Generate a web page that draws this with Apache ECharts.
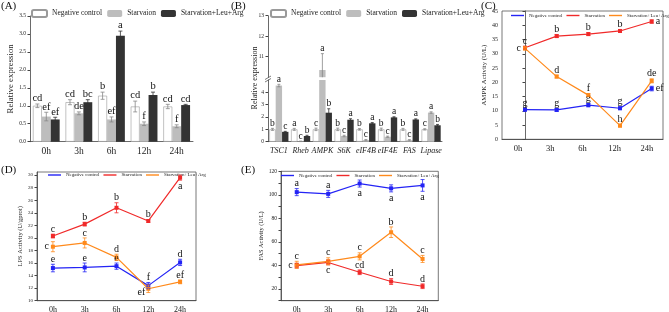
<!DOCTYPE html>
<html>
<head>
<meta charset="utf-8">
<script src="https://cdn.jsdelivr.net/npm/echarts@6/dist/echarts.min.js"></script>
<style>
html, body { margin: 0; padding: 0; background: #fff; }
#main { width: 669px; height: 312px; }
</style>
</head>
<body>
<div id="main"></div>
<script>
// ---- data ----
var hours = ['0h', '3h', '6h', '12h', '24h'];

// (A) relative expression, bars
var aNC = [1.00, 1.10, 1.28, 0.98, 0.98];
var aNCErr = [0.05, 0.07, 0.10, 0.15, 0.06];
var aNCLet = ['cd', 'cd', 'b', 'cd', 'cd'];
var aST = [0.70, 0.79, 0.62, 0.50, 0.43];
var aSTErr = [0.12, 0.04, 0.07, 0.05, 0.04];
var aSTLet = ['ef', 'de', 'ef', 'f', 'f'];
var aSLA = [0.62, 1.10, 2.95, 1.30, 1.02];
var aSLAErr = [0.06, 0.07, 0.13, 0.08, 0.02];
var aSLALet = ['ef', 'bc', 'a', 'b', 'cd'];

// (B) genes, broken axis
var genes = ['TSC1', 'Rheb', 'AMPK', 'S6K', 'eIF4B', 'eIF4E', 'FAS', 'Lipase'];
var bNC = [1.00, 1.00, 1.00, 1.00, 1.00, 1.00, 1.00, 1.00];
var bNCErr = [0.08, 0.08, 0.10, 0.10, 0.06, 0.10, 0.08, 0.05];
var bNCLet = ['b', 'a', 'c', 'b', 'b', 'b', 'b', 'c'];
var bST = [4.55, 0.03, 10.35, 0.46, 0.13, 0.40, 0.12, 2.36];
var bSTErr = [0.10, 0.02, 0.80, 0.06, 0.05, 0.05, 0.05, 0.06];
var bSTLet = ['a', 'c', 'a', 'c', 'c', 'c', 'c', 'a'];
var bSLA = [0.80, 0.46, 2.35, 1.78, 1.49, 1.97, 1.80, 1.33];
var bSLAErr = [0.04, 0.06, 0.32, 0.08, 0.06, 0.05, 0.05, 0.07];
var bSLALet = ['c', 'b', 'b', 'a', 'a', 'a', 'a', 'b'];

// (C) AMPK activity
var cNC = [10.4, 10.3, 12.0, 10.9, 17.8];
var cNCErr = [0.5, 0.5, 0.6, 0.5, 0.8];
var cNCLet = ['g', 'g', 'g', 'g', 'ef'];
var cST = [32.1, 36.2, 36.9, 38.0, 41.3];
var cSTErr = [0.5, 0.5, 0.5, 0.5, 0.6];
var cSTLet = ['c', 'b', 'b', 'b', 'a'];
var cSLA = [31.9, 22.0, 15.5, 4.8, 20.5];
var cSLAErr = [0.6, 0.5, 0.5, 0.5, 0.7];
var cSLALet = ['c', 'd', 'f', 'h', 'de'];

// (D) LPS activity
var dNC = [15.2, 15.3, 15.5, 12.4, 16.1];
var dNCErr = [0.6, 0.7, 0.5, 0.5, 0.5];
var dNCLet = ['e', 'e', 'e', 'f', 'd'];
var dST = [20.3, 22.2, 24.8, 22.7, 29.6];
var dSTErr = [0.3, 0.3, 0.8, 0.2, 0.4];
var dSTLet = ['c', 'b', 'b', 'b', 'a'];
var dSLA = [18.6, 19.2, 16.9, 11.9, 13.0];
var dSLAErr = [0.8, 0.8, 0.5, 0.6, 0.3];
var dSLALet = ['c', 'c', 'd', 'ef', 'ef'];

// (E) FAS activity
var eNC = [102.3, 100.8, 109.6, 105.5, 108.0];
var eNCErr = [3, 3, 3, 3, 5];
var eNCLet = ['a', 'a', 'a', 'a', 'a'];
var eST = [39.8, 42.5, 34.2, 26.3, 22.3];
var eSTErr = [2, 2, 2, 2.5, 2];
var eSTLet = ['c', 'c', 'cd', 'd', 'd'];
var eSLA = [40.5, 43.5, 47.7, 68.2, 45.5];
var eSLAErr = [3, 3, 3, 4.5, 3];
var eSLALet = ['c', 'c', 'c', 'b', 'c'];

// letter placement around the points
var cNCPos = ['top', 'top', 'top', 'top', 'right'];
var cSTPos = ['top', 'top', 'top', 'top', 'right'];
var cSLAPos = ['left', 'top', 'top', 'top', 'top'];
var dNCPos = ['top', 'top', 'top', 'top', 'top'];
var dSTPos = ['top', 'top', 'top', 'top', 'bottom'];
var dSLAPos = ['left', 'top', 'top', 'lowleft', 'top'];
var eNCPos = ['top', 'top', 'bottom', 'bottom', 'bottom'];
var eSTPos = ['left', 'bottom', 'top', 'top', 'top'];
var eSLAPos = ['top', 'top', 'top', 'top', 'top'];

var SERIF = '"Liberation Serif", "Times New Roman", serif';
var BLUE = '#2424f5', RED = '#f02a2a', ORANGE = '#ff8a1c';
var WHITE_BAR = {color: '#fff', borderColor: '#9a9a9a', borderWidth: 0.6};
var GRAY_BAR = {color: '#bdbdbd'};
var DARK_BAR = {color: '#333'};
var A_GAP = 0.18, B_GAP = 0.12;

// error bar + significance letter, drawn through the axes
function errLetters(o) {
  return {
    type: 'custom',
    xAxisIndex: o.x, yAxisIndex: o.y,
    z: 10, silent: true, clip: !!o.clip,
    data: o.vals.map(function (v, i) { return [i, v, o.errs[i]]; }),
    encode: {x: 0, y: 1},
    renderItem: function (params, api) {
      var i = api.value(0), v = api.value(1), e = api.value(2);
      if (o.keep && !o.keep(v, e)) return null;
      var x = api.coord([i, v])[0];
      if (o.bar != null) {
        var band = api.size([1, 0])[0];
        var bw = band * (1 - o.gap) / 3;
        x += (o.bar - 1) * bw;
      }
      var yt = api.coord([i, v + e])[1];
      var yb = api.coord([i, v - e])[1];
      var yc = api.coord([i, v])[1];
      var c = o.cap || 2;
      var st = {stroke: o.ec, lineWidth: 0.8};
      var kids = [
        {type: 'line', shape: {x1: x, y1: yt, x2: x, y2: yb}, style: st},
        {type: 'line', shape: {x1: x - c, y1: yt, x2: x + c, y2: yt}, style: st},
        {type: 'line', shape: {x1: x - c, y1: yb, x2: x + c, y2: yb}, style: st}
      ];
      var p = o.pos ? o.pos[params.dataIndex] : 'top';
      var tx = x, ty = yt, al = 'center', va = 'bottom';
      if (p === 'bottom') { ty = yb + 1; va = 'top'; }
      else if (p === 'left') { tx = x - 4; ty = yc; al = 'right'; va = 'middle'; }
      else if (p === 'right') { tx = x + 4; ty = yc; al = 'left'; va = 'middle'; }
      else if (p === 'lowleft') { tx = x - 3; ty = yc + 4; al = 'right'; va = 'middle'; }
      kids.push({
        type: 'text', x: tx, y: ty,
        style: {text: o.lets[params.dataIndex], fill: '#111', fontSize: o.fs || 10,
          fontFamily: SERIF, align: al, verticalAlign: va}
      });
      return {type: 'group', children: kids};
    }
  };
}

function barS(name, x, y, data, style, gap) {
  return {
    name: name, type: 'bar', xAxisIndex: x, yAxisIndex: y, data: data,
    itemStyle: style, barGap: '0%', barCategoryGap: (gap * 100) + '%',
    clip: true, silent: true
  };
}

function lineS(name, x, y, data, color) {
  return {
    name: name, type: 'line', xAxisIndex: x, yAxisIndex: y, data: data,
    symbol: 'rect', symbolSize: 4, lineStyle: {color: color, width: 1.2},
    itemStyle: {color: color}, silent: true, z: 4
  };
}

function pairs(arr) { return arr.map(function (v, i) { return [i, v]; }); }

function catAxis(grid, data, fs, extra) {
  var ax = {
    type: 'category', gridIndex: grid, data: data,
    axisLine: {lineStyle: {color: '#444', width: 0.8}},
    axisTick: {alignWithLabel: true, interval: 0, length: 3, lineStyle: {color: '#444'}},
    axisLabel: {fontFamily: SERIF, fontSize: fs, color: '#222', margin: 5, interval: 0}
  };
  for (var k in extra) ax[k] = extra[k];
  return ax;
}

function valAxis(grid, min, max, interval, fs, name, gap, nfs, extra) {
  var ax = {
    type: 'value', gridIndex: grid, min: min, max: max, interval: interval,
    name: name, nameLocation: 'middle', nameGap: gap,
    nameTextStyle: {fontFamily: SERIF, fontSize: nfs, color: '#222'},
    splitLine: {show: false},
    axisLine: {show: true, lineStyle: {color: '#444', width: 0.8}},
    axisTick: {show: true, length: 2.5, lineStyle: {color: '#444'}},
    axisLabel: {fontFamily: SERIF, fontSize: fs, color: '#222', margin: 4}
  };
  for (var k in extra) ax[k] = extra[k];
  return ax;
}

function lineLegend(left, top) {
  return {
    left: left, top: top, itemWidth: 13, itemHeight: 1.4, itemGap: 4,
    selectedMode: false, padding: 0,
    textStyle: {fontFamily: SERIF, fontSize: 5, color: '#222'},
    data: [
      {name: 'Negative control', icon: 'rect', itemStyle: {color: BLUE, borderWidth: 0}},
      {name: 'Starvation', icon: 'rect', itemStyle: {color: RED, borderWidth: 0}},
      {name: 'Starvation+Leu+Arg', icon: 'rect', itemStyle: {color: ORANGE, borderWidth: 0}}
    ]
  };
}

var boxed = {show: true, borderColor: '#555', borderWidth: 0.8, outerBoundsMode: 'none'};

var chart = echarts.init(document.getElementById('main'));

var option = {
  animation: false,
  backgroundColor: '#fff',
  textStyle: {fontFamily: SERIF},
  grid: [
    {left: 30, top: 16, width: 163, height: 125.7, outerBoundsMode: 'none'},
    {left: 268, top: 80, width: 174, height: 61.7, outerBoundsMode: 'none'},
    {left: 268, top: 15.7, width: 174, height: 61.5, outerBoundsMode: 'none'},
    Object.assign({left: 502, top: 11, width: 161, height: 128.3}, boxed),
    Object.assign({left: 37, top: 172, width: 159, height: 128.7}, boxed),
    Object.assign({left: 281, top: 171.3, width: 157.3, height: 129.4}, boxed)
  ],
  legend: [
    {left: 31, top: 9, itemWidth: 15, itemHeight: 7, itemGap: 5, padding: 0, selectedMode: false,
      textStyle: {fontFamily: SERIF, fontSize: 7.5, color: '#222'},
      data: ['Negative control', 'Starvaion', 'Starvation+Leu+Arg']},
    {left: 270, top: 9, itemWidth: 15, itemHeight: 7, itemGap: 5, padding: 0, selectedMode: false,
      textStyle: {fontFamily: SERIF, fontSize: 7.5, color: '#222'},
      data: ['Negative control', 'Starvation', 'Starvation+Leu+Arg']},
    lineLegend(511, 13),
    lineLegend(48, 172.5),
    lineLegend(281, 173)
  ],
  xAxis: [
    catAxis(0, hours, 9.5),
    catAxis(1, genes, 8, {axisLabel: {fontFamily: SERIF, fontStyle: 'italic', fontSize: 8, color: '#222', margin: 5, interval: 0}}),
    catAxis(2, genes, 8, {show: false}),
    catAxis(3, hours, 8.5),
    {type: 'value', gridIndex: 3, min: -0.726, max: 4.357, show: false},
    catAxis(4, hours, 8),
    catAxis(5, hours, 8)
  ],
  yAxis: [
    valAxis(0, 0, 3.5, 0.5, 5.5, 'Relative expression', 13, 8.8,
      {axisLabel: {fontFamily: SERIF, fontSize: 5.5, color: '#222', margin: 4,
        formatter: function (v) { return v.toFixed(1); }}}),
    valAxis(1, 0, 5, 1, 5.5, '', 0, 8, {axisLabel: {fontFamily: SERIF, fontSize: 5.5, color: '#222', margin: 4, showMaxLabel: false}}),
    valAxis(2, 10, 13, 1, 5.5, '', 0, 8, {axisLabel: {fontFamily: SERIF, fontSize: 5.5, color: '#222', margin: 4, showMinLabel: false}}),
    valAxis(3, 0, 45, 5, 6, 'AMPK Activity (U/L)', 9, 6.8),
    valAxis(4, 10, 30.5, 2, 5, 'LPS Activity (U/gprot)', 10, 6.5,
      {axisLabel: {fontFamily: SERIF, fontSize: 5, color: '#222', margin: 4, showMaxLabel: false}}),
    valAxis(5, 10, 120, 10, 5.5, 'FAS Activity (U/L)', 14, 6.3,
      {axisLabel: {fontFamily: SERIF, fontSize: 5.5, color: '#222', margin: 4,
        formatter: function (v) { return v % 20 === 0 ? String(v) : ''; }}})
  ],
  graphic: [
    {type: 'text', left: 1, top: 1, style: {text: '(A)', fontFamily: SERIF, fontSize: 11, fill: '#111'}},
    {type: 'text', left: 231, top: 1, style: {text: '(B)', fontFamily: SERIF, fontSize: 11, fill: '#111'}},
    {type: 'text', left: 481, top: 1, style: {text: '(C)', fontFamily: SERIF, fontSize: 11, fill: '#111'}},
    {type: 'text', left: 1, top: 165, style: {text: '(D)', fontFamily: SERIF, fontSize: 11, fill: '#111'}},
    {type: 'text', left: 241, top: 165, style: {text: '(E)', fontFamily: SERIF, fontSize: 11, fill: '#111'}},
    {type: 'text', x: 255, y: 78, rotation: Math.PI / 2,
      style: {text: 'Relative expression', fontFamily: SERIF, fontSize: 8, fill: '#222',
        align: 'center', verticalAlign: 'middle'}},
    {type: 'line', shape: {x1: 265, y1: 79.5, x2: 271, y2: 76}, style: {stroke: '#444', lineWidth: 0.7}},
    {type: 'line', shape: {x1: 265, y1: 82, x2: 271, y2: 78.5}, style: {stroke: '#444', lineWidth: 0.7}}
  ],
  series: [
    barS('Negative control', 0, 0, aNC, WHITE_BAR, A_GAP),
    barS('Starvaion', 0, 0, aST, GRAY_BAR, A_GAP),
    barS('Starvation+Leu+Arg', 0, 0, aSLA, DARK_BAR, A_GAP),
    barS('Negative control', 1, 1, bNC, WHITE_BAR, B_GAP),
    barS('Starvation', 1, 1, bST, GRAY_BAR, B_GAP),
    barS('Starvation+Leu+Arg', 1, 1, bSLA, DARK_BAR, B_GAP),
    barS('Negative control', 2, 2, bNC, WHITE_BAR, B_GAP),
    barS('Starvation', 2, 2, bST, GRAY_BAR, B_GAP),
    barS('Starvation+Leu+Arg', 2, 2, bSLA, DARK_BAR, B_GAP),

    lineS('Negative control', 4, 3, pairs(cNC), BLUE),
    lineS('Starvation', 4, 3, pairs(cST), RED),
    lineS('Starvation+Leu+Arg', 4, 3, pairs(cSLA), ORANGE),
    lineS('Negative control', 5, 4, dNC, BLUE),
    lineS('Starvation', 5, 4, dST, RED),
    lineS('Starvation+Leu+Arg', 5, 4, dSLA, ORANGE),
    lineS('Negative control', 6, 5, eNC, BLUE),
    lineS('Starvation', 6, 5, eST, RED),
    lineS('Starvation+Leu+Arg', 6, 5, eSLA, ORANGE),

    errLetters({x: 0, y: 0, vals: aNC, errs: aNCErr, lets: aNCLet, bar: 0, gap: A_GAP, ec: '#888', fs: 10.5}),
    errLetters({x: 0, y: 0, vals: aST, errs: aSTErr, lets: aSTLet, bar: 1, gap: A_GAP, ec: '#888', fs: 10.5}),
    errLetters({x: 0, y: 0, vals: aSLA, errs: aSLAErr, lets: aSLALet, bar: 2, gap: A_GAP, ec: '#333', fs: 10.5}),

    errLetters({x: 1, y: 1, vals: bNC, errs: bNCErr, lets: bNCLet, bar: 0, gap: B_GAP, ec: '#888', fs: 9.5, cap: 1.5,
      keep: function (v, e) { return v + e <= 5; }}),
    errLetters({x: 1, y: 1, vals: bST, errs: bSTErr, lets: bSTLet, bar: 1, gap: B_GAP, ec: '#888', fs: 9.5, cap: 1.5,
      keep: function (v, e) { return v + e <= 5; }}),
    errLetters({x: 1, y: 1, vals: bSLA, errs: bSLAErr, lets: bSLALet, bar: 2, gap: B_GAP, ec: '#333', fs: 9.5, cap: 1.5,
      keep: function (v, e) { return v + e <= 5; }}),
    errLetters({x: 2, y: 2, vals: bST, errs: bSTErr, lets: bSTLet, bar: 1, gap: B_GAP, ec: '#888', fs: 9.5, cap: 1.5,
      clip: true, keep: function (v) { return v >= 10; }}),

    errLetters({x: 4, y: 3, vals: cNC, errs: cNCErr, lets: cNCLet, pos: cNCPos, ec: BLUE, fs: 10}),
    errLetters({x: 4, y: 3, vals: cST, errs: cSTErr, lets: cSTLet, pos: cSTPos, ec: RED, fs: 10}),
    errLetters({x: 4, y: 3, vals: cSLA, errs: cSLAErr, lets: cSLALet, pos: cSLAPos, ec: ORANGE, fs: 10}),
    errLetters({x: 5, y: 4, vals: dNC, errs: dNCErr, lets: dNCLet, pos: dNCPos, ec: BLUE, fs: 10}),
    errLetters({x: 5, y: 4, vals: dST, errs: dSTErr, lets: dSTLet, pos: dSTPos, ec: RED, fs: 10}),
    errLetters({x: 5, y: 4, vals: dSLA, errs: dSLAErr, lets: dSLALet, pos: dSLAPos, ec: ORANGE, fs: 10}),
    errLetters({x: 6, y: 5, vals: eNC, errs: eNCErr, lets: eNCLet, pos: eNCPos, ec: BLUE, fs: 10}),
    errLetters({x: 6, y: 5, vals: eST, errs: eSTErr, lets: eSTLet, pos: eSTPos, ec: RED, fs: 10}),
    errLetters({x: 6, y: 5, vals: eSLA, errs: eSLAErr, lets: eSLALet, pos: eSLAPos, ec: ORANGE, fs: 10})
  ]
};

chart.setOption(option);
</script>
</body>
</html>
